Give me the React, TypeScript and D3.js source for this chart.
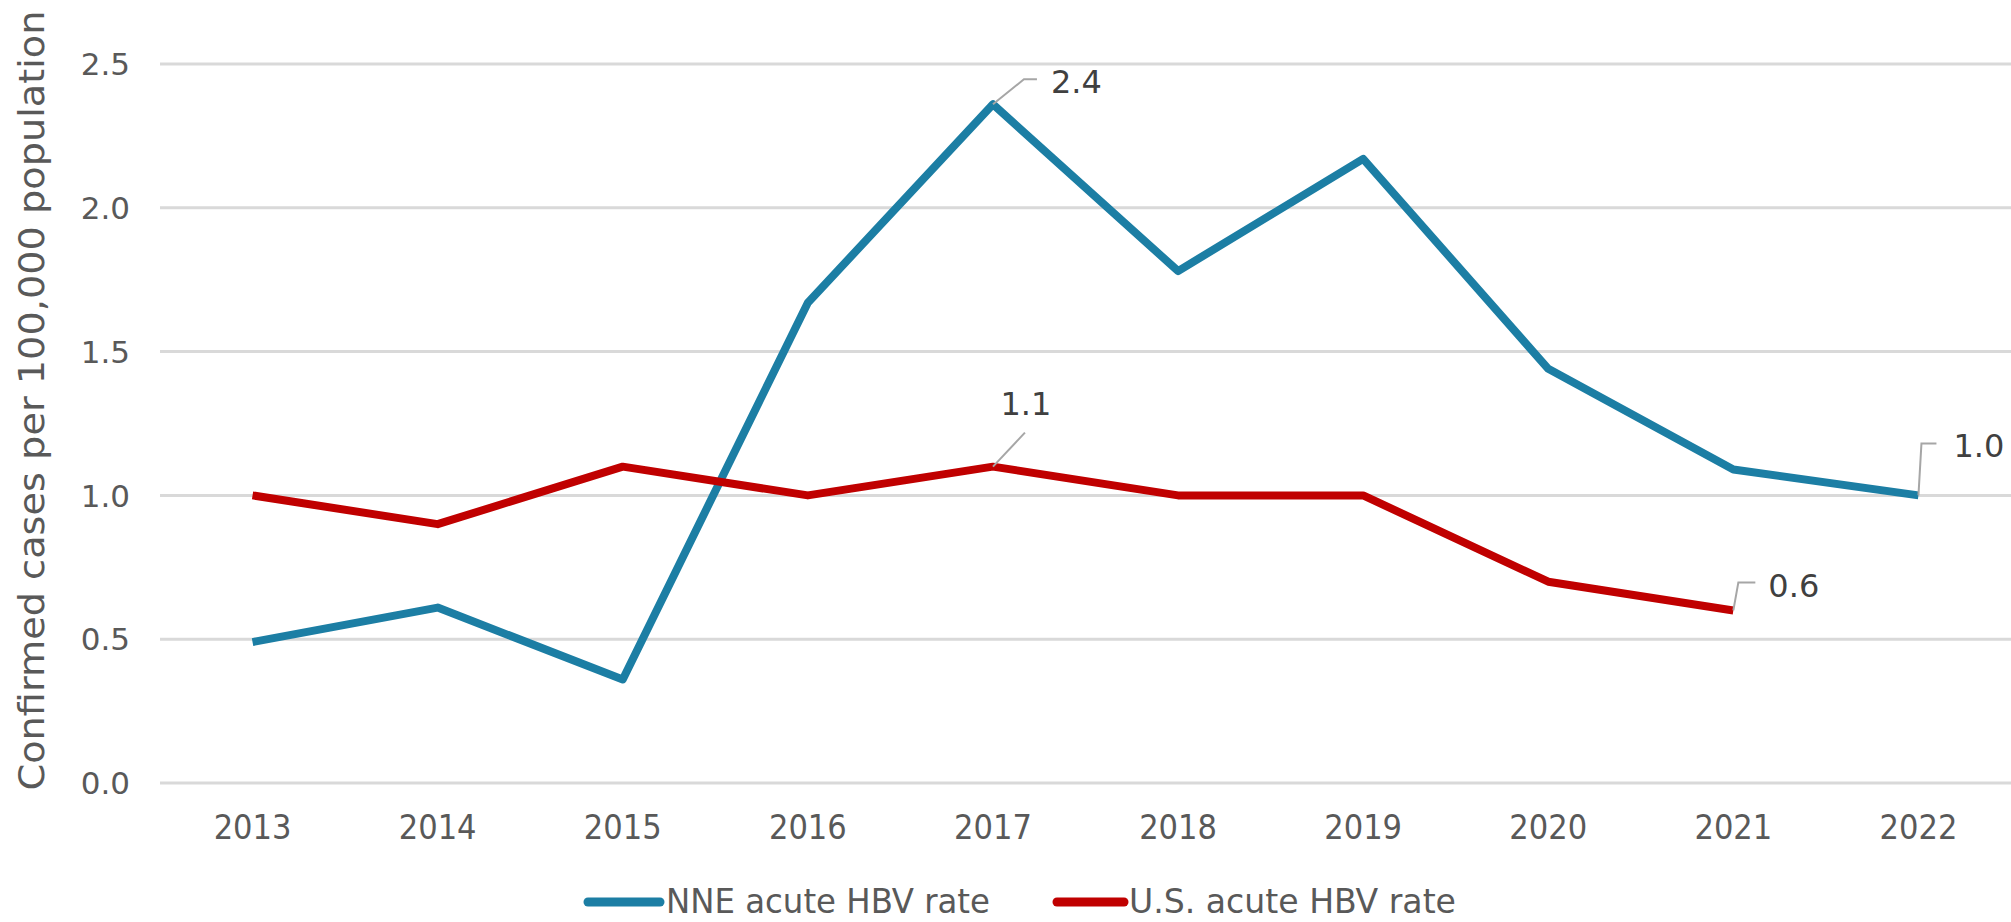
import React from 'react';
import * as d3 from 'd3';

const years = ['2013', '2014', '2015', '2016', '2017', '2018', '2019', '2020', '2021', '2022'];
const nneRate = [0.49, 0.61, 0.36, 1.67, 2.36, 1.78, 2.17, 1.44, 1.09, 1.0];
const usRate = [1.0, 0.9, 1.1, 1.0, 1.1, 1.0, 1.0, 0.7, 0.6, null];
const yTicks = [0, 0.5, 1.0, 1.5, 2.0, 2.5];

const W = 2011;
const H = 922;
const margin = { top: 64, right: 0, bottom: 139, left: 160 };

const BLUE = '#1c7ea4';
const RED = '#c00000';

export default function App() {
  const x = d3.scalePoint<string>()
    .domain(years)
    .range([margin.left, W - margin.right])
    .padding(0.5);

  const y = d3.scaleLinear()
    .domain([0, 2.5])
    .range([H - margin.bottom, margin.top]);

  const line = d3.line<number | null>()
    .defined(d => d !== null)
    .x((_, i) => x(years[i]) || 0)
    .y(d => y(d as number));

  const px = (i: number) => x(years[i]) || 0;

  // anchor points for the data labels
  const lbl2017 = { x: px(4), y: y(nneRate[4]) };
  const lblUs2017 = { x: px(4), y: y(usRate[4] as number) };
  const lbl2022 = { x: px(9), y: y(nneRate[9]) };
  const lblUs2021 = { x: px(8), y: y(usRate[8] as number) };

  const labelFont = "'DejaVu Sans', Verdana, sans-serif";
  const condFont = "'DejaVu Sans Condensed', 'DejaVu Sans', sans-serif";

  return (
    <svg width={W} height={H} style={{ position: 'absolute', left: 0, top: 0, background: '#fff' }}>
      {/* gridlines */}
      {yTicks.map(t => (
        <line key={t} x1={margin.left} x2={W} y1={y(t)} y2={y(t)} stroke="#d9d9d9" strokeWidth={3} />
      ))}
      {/* y tick labels */}
      {yTicks.map(t => (
        <text key={'yl' + t} x={130} y={y(t)} dy="0.36em" textAnchor="end"
          fontFamily={labelFont} fontSize={31} fill="#595959">{t.toFixed(1)}</text>
      ))}
      {/* x tick labels */}
      {years.map(yr => (
        <text key={yr} x={x(yr)} y={839} textAnchor="middle"
          fontFamily={condFont} fontSize={34} fill="#595959">{yr}</text>
      ))}
      {/* y axis title */}
      <text transform={`translate(44, ${(y(0) + 10) / 2 + 4}) rotate(-90)`} textAnchor="middle"
        fontFamily={condFont} fontSize={36} fill="#595959"
        textLength={780} lengthAdjust="spacingAndGlyphs">Confirmed cases per 100,000 population</text>

      {/* series */}
      <path d={line(nneRate) || ''} fill="none" stroke={BLUE} strokeWidth={8} strokeLinejoin="round" />
      <path d={line(usRate) || ''} fill="none" stroke={RED} strokeWidth={8} strokeLinejoin="round" />

      {/* leader lines */}
      <g stroke="#a6a6a6" strokeWidth={2} fill="none">
        <polyline points={`${lbl2017.x},${lbl2017.y} ${lbl2017.x + 31},${lbl2017.y - 25} ${lbl2017.x + 44},${lbl2017.y - 25}`} />
        <polyline points={`${lblUs2017.x},${lblUs2017.y} ${lblUs2017.x + 32},${lblUs2017.y - 34}`} />
        <polyline points={`${lbl2022.x},${lbl2022.y} ${lbl2022.x + 3},${lbl2022.y - 52} ${lbl2022.x + 18},${lbl2022.y - 52}`} />
        <polyline points={`${lblUs2021.x},${lblUs2021.y} ${lblUs2021.x + 5},${lblUs2021.y - 28} ${lblUs2021.x + 22},${lblUs2021.y - 28}`} />
      </g>
      {/* data labels */}
      <g fontFamily={labelFont} fontSize={32} fill="#404040">
        <text x={lbl2017.x + 58} y={lbl2017.y - 11}>2.4</text>
        <text x={lblUs2017.x + 33} y={lblUs2017.y - 52} textAnchor="middle">1.1</text>
        <text x={lbl2022.x + 35} y={lbl2022.y - 38}>1.0</text>
        <text x={lblUs2021.x + 35} y={lblUs2021.y - 13}>0.6</text>
      </g>

      {/* legend */}
      <g fontFamily={condFont} fontSize={33} fill="#595959">
        <line x1={588} x2={660} y1={902} y2={902} stroke={BLUE} strokeWidth={9} strokeLinecap="round" />
        <text x={666} y={913} textLength={324} lengthAdjust="spacingAndGlyphs">NNE acute HBV rate</text>
        <line x1={1057} x2={1124} y1={902} y2={902} stroke={RED} strokeWidth={9} strokeLinecap="round" />
        <text x={1129} y={913} textLength={327} lengthAdjust="spacingAndGlyphs">U.S. acute HBV rate</text>
      </g>
    </svg>
  );
}
